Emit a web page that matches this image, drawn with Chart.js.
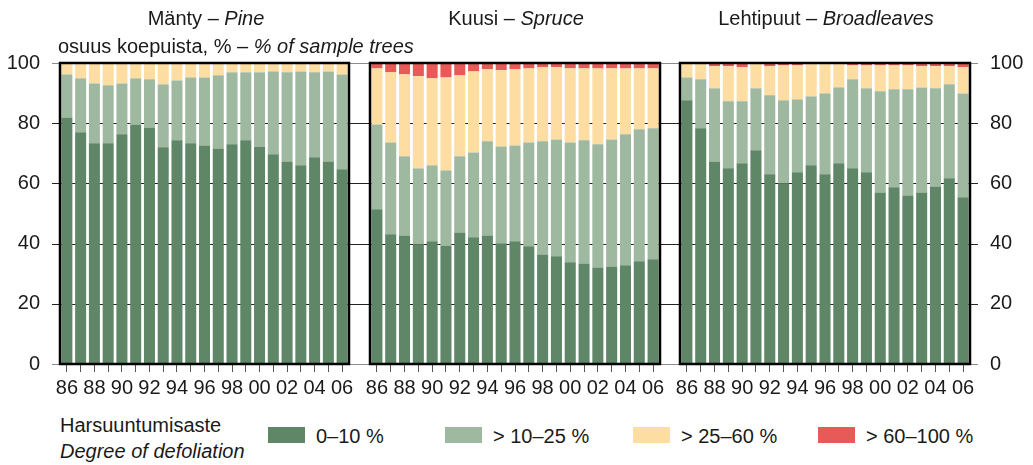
<!DOCTYPE html>
<html><head><meta charset="utf-8">
<script src="https://cdn.jsdelivr.net/npm/chart.js@4/dist/chart.umd.min.js"></script>
<style>
html,body{margin:0;padding:0;background:#fff;}
#wrap{position:relative;width:1033px;height:465px;overflow:hidden;font-family:'Liberation Sans Narrow','Liberation Sans',Arial,sans-serif;color:#1a1a1a;}
canvas{position:absolute;top:0;}
.t{position:absolute;font-size:20px;white-space:nowrap;line-height:24px;}
.c{transform:translateX(-50%);}
.box{position:absolute;width:37px;height:16px;}
</style></head>
<body><div id="wrap">
<canvas id="c1" width="360" height="410" style="left:0px;width:360px;height:410px"></canvas>
<canvas id="c2" width="310" height="410" style="left:360px;width:310px;height:410px"></canvas>
<canvas id="c3" width="363" height="410" style="left:670px;width:363px;height:410px"></canvas>
<div class="t c" style="left:206px;top:6px">Mänty – <i>Pine</i></div>
<div class="t c" style="left:516px;top:6px">Kuusi – <i>Spruce</i></div>
<div class="t c" style="left:826px;top:6px">Lehtipuut – <i>Broadleaves</i></div>
<div class="t" style="left:58px;top:34px">osuus koepuista, % – <i>% of sample trees</i></div>
<div class="t" style="left:60px;top:413px">Harsuuntumisaste</div>
<div class="t" style="left:60px;top:439px"><i>Degree of defoliation</i></div>
<div id="legend"></div>
</div>
<script>
const years = ['86','87','88','89','90','91','92','93','94','95','96','97','98','99','00','01','02','03','04','05','06'];
const seriesNames = ['0–10 %','> 10–25 %','> 25–60 %','> 60–100 %'];
const seriesColors = ['#5e8667','#9fb8a0','#fedda3','#e85a58'];

const pine0_10   = [81.9,77.0,73.3,73.3,76.3,79.6,78.6,72.0,74.3,73.3,72.6,71.6,73.0,74.3,72.3,69.7,67.3,66.0,68.7,67.3,64.7];
const pine10_25  = [14.3,17.9,19.9,19.3,16.9,15.3,16.0,20.9,19.9,21.9,22.6,24.3,23.9,22.6,24.6,27.5,29.6,31.2,28.2,29.9,31.5];
const pine60_100 = [0.1,0.4,0.1,0.1,0.4,0.4,0.3,0.1,0.1,0.1,0.4,0.1,0.1,0.1,0.1,0.3,0.1,0.1,0.1,0.1,0.3];
const pine25_60  = [3.7,4.7,6.7,7.3,6.4,4.7,5.1,7.0,5.7,4.7,4.4,4.0,3.0,3.0,3.0,2.5,3.0,2.7,3.0,2.7,3.5];

const spruce0_10   = [51.4,43.1,42.7,39.8,40.8,39.4,43.7,42.1,42.7,40.1,40.8,39.1,36.4,35.8,33.8,33.4,32.1,32.4,32.8,34.1,34.8];
const spruce10_25  = [28.2,30.5,26.3,25.2,25.2,24.9,25.3,28.2,31.3,32.2,31.8,34.5,37.6,38.8,39.8,40.9,40.9,42.2,43.5,43.9,43.5];
const spruce25_60  = [18.6,23.3,27.2,30.6,28.9,30.9,26.9,26.9,23.9,25.3,25.3,24.6,24.6,24.0,24.6,23.9,25.2,23.6,21.9,20.2,19.9];
const spruce60_100 = [1.8,3.1,3.8,4.4,5.1,4.8,4.1,2.8,2.1,2.4,2.1,1.8,1.4,1.4,1.8,1.8,1.8,1.8,1.8,1.8,1.8];

const broad0_10   = [87.6,78.3,67.3,65.0,66.7,71.0,63.0,60.0,63.7,66.0,63.0,66.7,65.0,63.7,57.0,58.7,56.0,57.0,59.0,61.7,55.4];
const broad10_25  = [7.6,16.3,24.3,22.3,20.6,20.6,26.3,27.6,24.2,22.9,26.9,25.2,29.6,27.9,33.6,32.6,35.3,34.9,32.6,31.2,34.5];
const broad25_60  = [4.8,5.4,7.3,11.6,11.3,8.4,9.6,11.6,11.3,10.7,9.7,7.7,4.6,7.6,8.6,7.9,7.9,7.0,7.3,6.0,8.7];
const broad60_100 = [0,0,1.1,1.1,1.4,0,1.1,0.8,0.8,0.4,0.4,0.4,0.8,0.8,0.8,0.8,0.8,1.1,1.1,1.1,1.4];

const yTicks = [0,20,40,60,80,100];
const FONT = "'Liberation Sans Narrow','Liberation Sans',Arial,sans-serif";

// legend
(function(){
  const lg = document.getElementById('legend');
  const boxX = [268,445,633,818];
  seriesNames.forEach((n,i)=>{
    const b = document.createElement('div'); b.className='box';
    b.style.left = boxX[i]+'px'; b.style.top='427px'; b.style.background = seriesColors[i];
    lg.appendChild(b);
    const t = document.createElement('div'); t.className='t';
    t.style.left = (boxX[i]+48)+'px'; t.style.top='424px'; t.textContent = n;
    lg.appendChild(t);
  });
})();

const gridFrame = {
  id:'gridFrame',
  beforeDatasetsDraw(chart, args, opts){
    const {ctx, chartArea:a} = chart; const y = chart.scales.y;
    const x0 = opts.leftTicks ? a.left - 8 : 0;
    const x1 = opts.rightTicks ? a.right + 8 : chart.width;
    ctx.save(); ctx.lineWidth = 1;
    yTicks.forEach(v=>{
      const py = Math.round(y.getPixelForValue(v)) + 0.5;
      ctx.strokeStyle = (v===0||v===100) ? '#8c8c8c' : '#222';
      ctx.beginPath(); ctx.moveTo(x0,py); ctx.lineTo(x1,py); ctx.stroke();
    });
    ctx.restore();
  },
  afterDatasetsDraw(chart){
    const {ctx, chartArea:a} = chart;
    ctx.save(); ctx.strokeStyle='#000'; ctx.lineWidth=2.5;
    ctx.strokeRect(a.left, a.top, a.right-a.left, a.bottom-a.top);
    ctx.restore();
  }
};

function makeChart(id, series, side, padding){
  const datasets = series.map((d,i)=>({
    label: seriesNames[i], data: d, backgroundColor: seriesColors[i],
    borderWidth: 0, barPercentage: 0.8, categoryPercentage: 1.0
  }));
  const yOpt = {
    stacked:true, min:0, max:100,
    ticks:{stepSize:20, padding:20, color:'#1a1a1a', font:{family:FONT, size:20}},
    grid:{display:false, drawTicks:false}, border:{display:false}
  };
  if (side === 'none') { yOpt.display = false; }
  else { yOpt.position = side; yOpt.afterFit = s => { s.width = side==='left' ? 60 : 63; }; }
  return new Chart(document.getElementById(id), {
    type:'bar',
    data:{labels: years, datasets},
    options:{
      responsive:false, animation:false,
      layout:{padding},
      plugins:{legend:{display:false}, tooltip:{enabled:false},
        gridFrame:{leftTicks: side==='left', rightTicks: side==='right'}},
      scales:{
        x:{stacked:true, offset:true,
          grid:{offset:false, display:true, drawOnChartArea:false, drawTicks:true, tickLength:8, color:'#555'},
          border:{display:false},
          ticks:{autoSkip:false, maxRotation:0, padding:4, color:'#1a1a1a', font:{family:FONT, size:20},
            callback:(v,i)=> i%2===0 ? years[i] : ''},
          afterFit: s => { s.height = 46; }
        },
        y: yOpt
      }
    },
    plugins:[gridFrame]
  });
}

makeChart('c1', [pine0_10,pine10_25,pine25_60,pine60_100], 'left', {top:63, right:11, left:0, bottom:0});
makeChart('c2', [spruce0_10,spruce10_25,spruce25_60,spruce60_100], 'none', {top:63, right:10, left:10, bottom:0});
makeChart('c3', [broad0_10,broad10_25,broad25_60,broad60_100], 'right', {top:63, right:0, left:10, bottom:0});
</script>
</body></html>
